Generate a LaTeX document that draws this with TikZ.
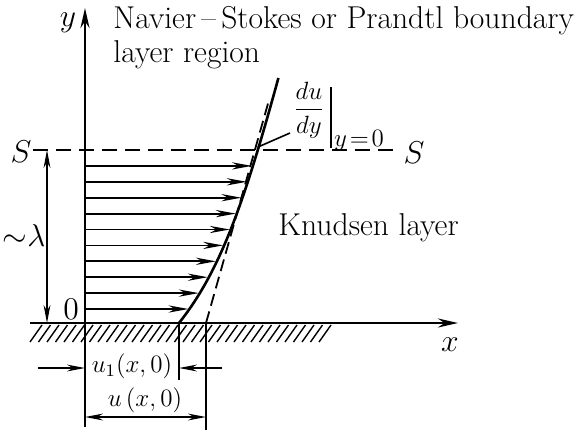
\RequirePackage{fix-cm}
\documentclass[tikz,border=0pt]{standalone}
\usepackage{amsmath}
\usetikzlibrary{arrows.meta}

\tikzset{
  axis/.style={line width=1.3pt, -{Stealth[length=10pt,width=4.5pt]}},
  vel/.style={line width=0.9pt, -{Stealth[length=10pt,width=3.6pt]}},
  dimline/.style={line width=0.8pt},
  dimarrow/.style={line width=0.8pt, -{Stealth[length=9pt,width=3.4pt]}},
  dimboth/.style={line width=0.8pt, {Stealth[length=9pt,width=3.4pt]}-{Stealth[length=9pt,width=3.4pt]}},
  txt/.style={font=\fontsize{15.8}{18}\selectfont, inner sep=0pt},
  small/.style={font=\fontsize{12.5}{15}\selectfont, inner sep=0pt},
}

\begin{document}
\begin{tikzpicture}[x=0.5pt,y=-0.5pt]
    \useasboundingbox (0,0) rectangle (578,434);

    % Wall and axes
    \coordinate (O) at (85,323);
    \coordinate (wallL) at (30,323);
    \coordinate (xend) at (458,323);
    \coordinate (yend) at (85,8);
    \draw[line width=1.3pt] (wallL) -- (O);
    \draw[axis] (O) -- (xend);
    \draw[axis] (O) -- (yend);
    \node[txt] (ylab) at (68,23) {$y$};
    \node[txt] (xlab) at (450,345) {$x$};

    % Hatching below the wall
    \foreach \x in {30,38.5,...,322} {
        \draw[line width=0.7pt] (\x,342) -- ++(12,-17);
    }

    % S--S line
    \coordinate (SL) at (33,150);
    \coordinate (SR) at (400,150);
    \draw[line width=0.9pt, dash pattern=on 7.5pt off 4pt] (SL) -- (SR);
    \node[txt] (sleft) at (21,152) {$S$};
    \node[txt] (sright) at (414,153) {$S$};

    % Thickness of the Knudsen layer
    \coordinate (lamtop) at (47,150);
    \coordinate (lambot) at (47,323);
    \draw[dimboth] (lamtop) -- (lambot);
    \node[txt] (lam) at (24,236) {$\mathord{\sim}\lambda$};
    \node[txt] (zero) at (71,309) {$0$};

    % Velocity profile
    \draw[line width=1.3pt] plot[domain=0:245, samples=60]
        ({179+36.7*(1-exp(-\x/68))+0.26*\x}, {323-\x});
    \foreach \i in {0,...,9} {
        \pgfmathsetmacro\h{14+15.9*\i}
        \pgfmathsetmacro\u{179+36.7*(1-exp(-\h/68))+0.26*\h}
        \coordinate (a\i) at (85,323-\h);
        \coordinate (b\i) at (\u-1,323-\h);
        \draw[vel] (a\i) -- (b\i);
    }

    % Tangent at the wall
    \coordinate (T0) at (206,323);
    \coordinate (T1) at (269,100);
    \draw[line width=0.9pt, dash pattern=on 6pt off 3pt] (T0) -- (T1);

    % Slope label
    \coordinate (lead0) at (258,147);
    \coordinate (lead1) at (290,133);
    \draw[dimline] (lead0) -- (lead1);
    \node[small] (dudy) at (309,110) {$\dfrac{du}{dy}$};
    \coordinate (bar0) at (331,87);
    \coordinate (bar1) at (331,148);
    \draw[dimline] (bar0) -- (bar1);
    \node[small] (yzero) at (359,141) {$y\!=\!0$};

    % Region labels
    \node[txt, anchor=base west] (ns) at (113,28) {Navier\,--\,Stokes or Prandtl boundary};
    \node[txt, anchor=base west] (ns2) at (113,62) {layer region};
    \node[txt, anchor=base west] (kn) at (278,235) {Knudsen layer};

    % Slip velocity dimensions
    \coordinate (e0) at (85,427);
    \coordinate (e1) at (179,323);
    \coordinate (e1b) at (179,380);
    \coordinate (e2) at (206,430);
    \draw[dimline] (O) -- (e0);
    \draw[dimline] (e1) -- (e1b);
    \draw[dimline] (T0) -- (e2);
    \coordinate (p0) at (38,368);
    \coordinate (p1) at (85,368);
    \coordinate (q0) at (222,368);
    \coordinate (q1) at (179,368);
    \draw[dimarrow] (p0) -- (p1);
    \draw[dimarrow] (q0) -- (q1);
    \node[small] (u1) at (132,366) {$u_1(x,0)$};
    \coordinate (r0) at (85,417);
    \coordinate (r1) at (206,417);
    \draw[dimboth] (r0) -- (r1);
    \node[small] (u) at (145,400) {$u\,(x,0)$};
\end{tikzpicture}
\end{document}
